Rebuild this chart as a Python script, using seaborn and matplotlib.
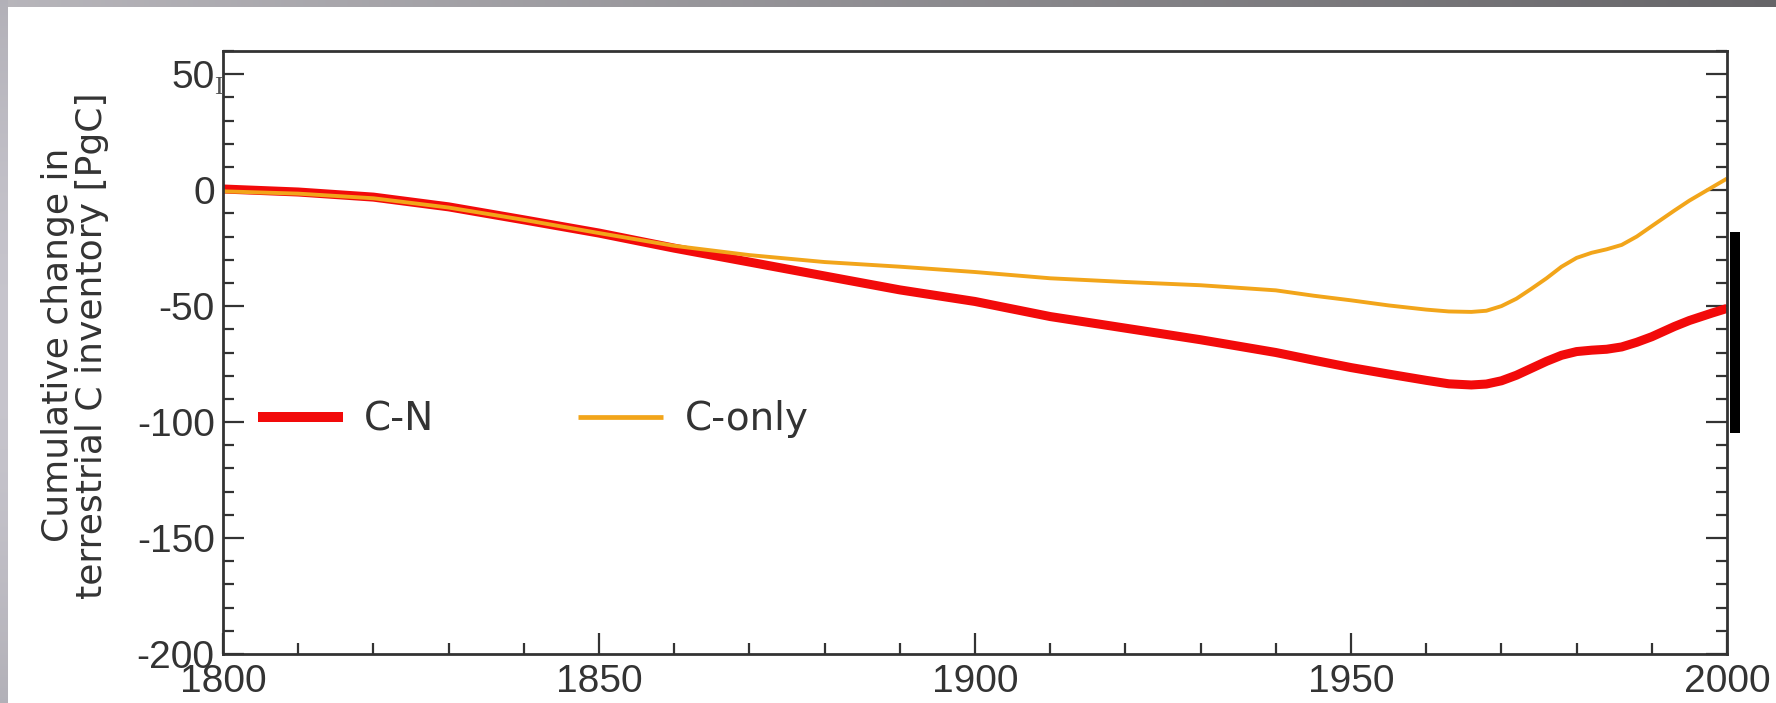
import numpy as np
import pandas as pd
import matplotlib
matplotlib.use("Agg")
import matplotlib.pyplot as plt
import seaborn as sns

# Cumulative change in terrestrial carbon inventory, 1800-2000 [PgC]
years_cn = [1800, 1810, 1820, 1830, 1840, 1850, 1860, 1870, 1880, 1890,
            1900, 1910, 1920, 1930, 1940, 1945, 1950, 1955, 1960, 1963,
            1966, 1968, 1970, 1972, 1974, 1976, 1978, 1980, 1982, 1984,
            1986, 1988, 1990, 1993, 1995, 1998, 2000]
c_n = [0.5, -0.8, -3.0, -7.2, -12.8, -18.5, -25.0, -31.0, -37.0, -43.0,
       -48.0, -54.5, -59.5, -64.5, -70.0, -73.3, -76.5, -79.3, -82.0, -83.5,
       -84.0, -83.6, -82.2, -79.8, -76.8, -73.8, -71.2, -69.6, -69.0, -68.6,
       -67.6, -65.6, -63.2, -58.8, -56.2, -53.0, -51.0]

years_c = years_cn
c_only = [-0.5, -1.5, -3.5, -7.5, -12.8, -18.5, -24.0, -28.0, -31.0, -33.0,
          -35.3, -38.0, -39.6, -41.0, -43.2, -45.5, -47.5, -49.7, -51.5, -52.3,
          -52.5, -52.0, -50.0, -46.8, -42.5, -38.0, -33.0, -29.2, -27.0, -25.5,
          -23.6, -20.0, -15.5, -8.8, -4.5, 1.2, 5.0]

series_labels = ["C-N", "C-only"]
series_colors = ["#f20a0a", "#f2a51a"]

# Uncertainty range drawn beside the right axis
range_low, range_high = -104.7, -18.0

x_ticks = [1800, 1850, 1900, 1950, 2000]
y_ticks = [50, 0, -50, -100, -150, -200]
y_label = "Cumulative change in\nterrestrial C inventory [PgC]"

sns.set_theme(style="ticks")
plt.rcParams["font.family"] = ["Liberation Sans", "DejaVu Sans"]

ink = "#333333"
fig = plt.figure(figsize=(17.76, 7.03), dpi=100)
fig.patch.set_facecolor("white")

# slide-style grey border strips along the left and top edges
bg = fig.add_axes([0, 0, 1, 1], zorder=-10)
bg.set_axis_off()
H, W = 703, 1776
img = np.ones((H, W, 3))
top_grad = np.linspace(0.72, 0.40, W)[None, :, None]
img[:7, :, :] = top_grad * np.array([1.0, 0.99, 1.02])
left_grad = (0.70 + 0.08 * np.sin(np.linspace(0, np.pi, H)))[:, None, None]
img[:, :8, :] = np.clip(left_grad * np.array([1.0, 0.99, 1.03]), 0, 1)
bg.imshow(img, aspect="auto", extent=[0, 1, 0, 1], interpolation="bilinear")
bg.set_xlim(0, 1)
bg.set_ylim(0, 1)

ax = fig.add_axes([223 / 1776, 49 / 703, 1504 / 1776, 603 / 703])
ax.set_facecolor("white")

df_cn = pd.DataFrame({"year": years_cn, "value": c_n})
df_c = pd.DataFrame({"year": years_c, "value": c_only})
sns.lineplot(data=df_cn, x="year", y="value", color=series_colors[0],
             linewidth=6.5, label=series_labels[0], ax=ax,
             solid_joinstyle="round", solid_capstyle="butt")
sns.lineplot(data=df_c, x="year", y="value", color=series_colors[1],
             linewidth=2.8, label=series_labels[1], ax=ax,
             solid_joinstyle="round", solid_capstyle="butt")

ax.plot([2001.1, 2001.1], [range_low, range_high], color="black",
        linewidth=7.2, solid_capstyle="butt", clip_on=False)

ax.set_xlim(1800, 2000)
ax.set_ylim(-200, 60)
ax.set_xticks(x_ticks)
ax.set_xticks(np.arange(1800, 2001, 10), minor=True)
ax.set_yticks(y_ticks)
ax.set_yticks(np.arange(-200, 61, 10), minor=True)
ax.set_xticklabels([str(v) for v in x_ticks])
ax.set_yticklabels([str(v) for v in y_ticks])
ax.set_xlabel("")
ax.set_ylabel(y_label, fontsize=26, color=ink, linespacing=1.0,
              family=["DejaVu Sans"])
ax.yaxis.set_label_coords(-0.0758, 0.512)

for side in ["left", "right", "top", "bottom"]:
    ax.spines[side].set_visible(True)
    ax.spines[side].set_linewidth(2.0)
    ax.spines[side].set_color(ink)

ax.tick_params(axis="x", which="both", direction="in", top=False, bottom=True,
               colors=ink, width=1.6, labelsize=28, pad=7)
ax.tick_params(axis="y", which="both", direction="in", left=True, right=True,
               colors=ink, width=1.6, labelsize=28, pad=6)
ax.tick_params(which="major", length=15)
ax.tick_params(which="minor", length=8)

handles, labels = ax.get_legend_handles_labels()
leg = ax.legend(handles, labels, ncol=2, frameon=False, loc="center left",
                bbox_to_anchor=(0.0233, 0.389),
                prop={"family": ["DejaVu Sans"], "size": 28},
                handlelength=2.18, handletextpad=0.55, columnspacing=3.7,
                borderpad=0, borderaxespad=0)
for h, lw in zip(leg.get_lines(), [7.2, 3.4]):
    h.set_linewidth(lw)
for t in leg.get_texts():
    t.set_color(ink)

# small I-beam glyph beside the top label
fig.text(218 / 1776, 1 - 88 / 703, "I", family=["Liberation Serif", "DejaVu Serif"],
         fontsize=19, color="#555555", ha="center", va="center")

fig.savefig("out.png", dpi=100)
